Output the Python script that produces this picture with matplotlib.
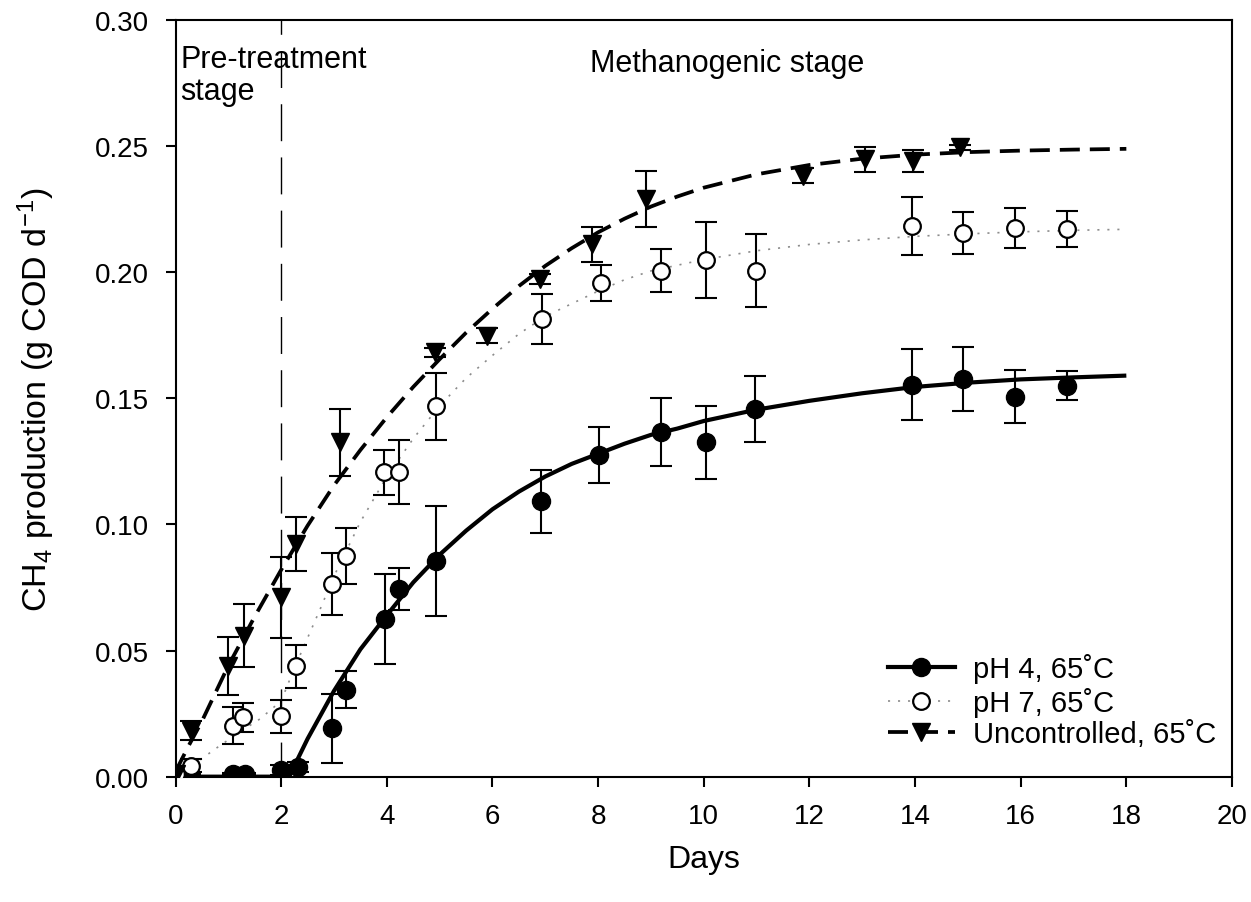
import matplotlib
matplotlib.use("Agg")
import matplotlib.pyplot as plt
from matplotlib.lines import Line2D
import numpy as np

plt.rcParams['font.family'] = ['Liberation Sans', 'DejaVu Sans']
plt.rcParams['mathtext.fontset'] = 'custom'
plt.rcParams['mathtext.rm'] = 'Liberation Sans'
plt.rcParams['mathtext.it'] = 'Liberation Sans:italic'
plt.rcParams['lines.scale_dashes'] = False

# ---- measured points (days, g COD/d, +/- error) ----
ph4_days = [0.02, 0.28, 1.09, 1.32, 2.0, 2.32, 2.96, 3.23, 3.96, 4.24, 4.94, 6.92,
            8.02, 9.19, 10.04, 10.97, 13.95, 14.91, 15.9, 16.87]
ph4_ch4 = [0.001, 0.001, 0.001, 0.001, 0.0028, 0.0037, 0.0192, 0.0344, 0.0625, 0.0744,
           0.0854, 0.1092, 0.1276, 0.1367, 0.1325, 0.1457, 0.1554, 0.1576, 0.1506, 0.155]
ph4_err = [0.0005, 0.0005, 0.0005, 0.0005, 0.002, 0.002, 0.0137, 0.0073, 0.018, 0.0083,
           0.0218, 0.0125, 0.011, 0.0135, 0.0144, 0.013, 0.014, 0.0126, 0.0105, 0.0057]

ph7_days = [0.0, 0.29, 1.09, 1.28, 1.99, 2.29, 2.96, 3.22, 3.95, 4.23, 4.94, 6.93,
            8.05, 9.2, 10.04, 10.98, 13.95, 14.91, 15.9, 16.87]
ph7_ch4 = [0.001, 0.0044, 0.0202, 0.0235, 0.0239, 0.0437, 0.0764, 0.0874, 0.1207, 0.1207,
           0.1468, 0.1814, 0.1957, 0.2006, 0.2048, 0.2006, 0.2184, 0.2155, 0.2174, 0.2171]
ph7_err = [0.001, 0.0025, 0.0073, 0.0056, 0.0065, 0.0084, 0.0122, 0.011, 0.009, 0.0128,
           0.0132, 0.01, 0.0073, 0.0084, 0.015, 0.0144, 0.0115, 0.0082, 0.008, 0.0073]

unc_days = [0.0, 0.3, 1.0, 1.3, 2.0, 2.29, 3.11, 4.91, 5.89, 6.9, 7.89, 8.9,
            11.88, 13.06, 13.97, 14.86]
unc_ch4 = [0.001, 0.0182, 0.044, 0.0559, 0.0711, 0.0922, 0.1325, 0.1682, 0.1748, 0.1973,
           0.2111, 0.229, 0.2382, 0.2448, 0.2441, 0.2495]
unc_err = [0.0005, 0.0037, 0.0115, 0.0124, 0.016, 0.0106, 0.0133, 0.0018, 0.003, 0.002,
           0.0069, 0.011, 0.003, 0.005, 0.0045, 0.001]

# ---- fitted curves ----
fit4_days = [0, 2.15, 2.5, 3.0, 3.5, 4.0, 4.5, 5.0, 5.5, 6.0, 6.5, 7.0, 7.5, 8.0, 8.5,
             9.0, 9.5, 10.0, 11.0, 12.0, 13.0, 14.0, 15.0, 16.0, 17.0, 18.0]
fit4_ch4 = [0, 0, 0.015, 0.034, 0.0505, 0.064, 0.077, 0.088, 0.0975, 0.106, 0.113, 0.119,
            0.124, 0.128, 0.132, 0.1355, 0.138, 0.141, 0.1455, 0.149, 0.152, 0.1545,
            0.1562, 0.1575, 0.1583, 0.159]

fit7_days = [0, 0.4, 0.8, 1.2, 1.6, 2.0, 2.25, 2.5, 2.75, 3.0, 3.5, 4.0, 4.5, 5.0, 5.5,
             6.0, 6.5, 7.0, 7.5, 8.0, 8.5, 9.0, 10.0, 11.0, 12.0, 13.0, 14.0, 15.0,
             16.0, 17.0, 18.0]
fit7_ch4 = [0, 0.0057, 0.0117, 0.0175, 0.0229, 0.030, 0.043, 0.055, 0.067, 0.0795, 0.101,
            0.119, 0.134, 0.147, 0.158, 0.167, 0.1755, 0.1825, 0.1875, 0.1925, 0.197,
            0.2005, 0.205, 0.2085, 0.211, 0.2128, 0.2142, 0.2152, 0.216, 0.2166, 0.217]

fitu_days = [0, 0.25, 0.5, 1.0, 1.5, 2.0, 2.5, 3.0, 3.5, 4.0, 4.5, 5.0, 5.5, 6.0, 6.5,
             7.0, 7.5, 8.0, 8.5, 9.0, 9.5, 10.0, 11.0, 12.0, 13.0, 14.0, 15.0, 16.0,
             17.0, 18.0]
fitu_ch4 = [0.002, 0.0123, 0.022, 0.044, 0.0635, 0.082, 0.0995, 0.1155, 0.1295, 0.1425,
            0.1545, 0.1655, 0.176, 0.1855, 0.1945, 0.2025, 0.2095, 0.2158, 0.2212, 0.226,
            0.230, 0.2335, 0.2388, 0.2425, 0.245, 0.2466, 0.2476, 0.2482, 0.2486, 0.2489]

stage_boundary = 2.0
labels = ['pH 4, 65˚C', 'pH 7, 65˚C', 'Uncontrolled, 65˚C']

fig = plt.figure(figsize=(12.51, 9.03), dpi=100)
ax = fig.add_axes([0.1403, 0.1388, 0.8445, 0.8380])

dash_u = (0, (14.4, 7.2))
dot_7 = (0, (1.5, 5.7))

# stage separator
ax.axvline(stage_boundary, ymin=1, ymax=0, color='k', lw=1.0,
           linestyle=(16.3, (26.6, 11.7)), zorder=1)

# fit lines
ax.plot(fit4_days, fit4_ch4, color='k', lw=3.0, solid_capstyle='butt', zorder=2)
ax.plot(fit7_days, fit7_ch4, color='0.55', lw=1.2, linestyle=dot_7, zorder=2)
ax.plot(fitu_days, fitu_ch4, color='k', lw=2.7, linestyle=dash_u, zorder=2)

# error bars
for d, v, e in [(ph4_days, ph4_ch4, ph4_err), (ph7_days, ph7_ch4, ph7_err),
                (unc_days, unc_ch4, unc_err)]:
    ax.errorbar(d, v, yerr=e, fmt='none', ecolor='k', elinewidth=1.5,
                capsize=8, capthick=1.5, zorder=3)

# markers
ax.plot(ph4_days, ph4_ch4, 'o', ms=13, mfc='k', mec='k', zorder=4)
ax.plot(ph7_days, ph7_ch4, 'o', ms=12, mfc='white', mec='k', mew=1.6, zorder=4)
ax.plot(unc_days, unc_ch4, 'v', ms=13, mfc='k', mec='k', zorder=4)

ax.set_xlim(0, 20)
ax.set_ylim(0, 0.30)
ax.set_xticks(np.arange(0, 21, 2))
ax.set_yticks(np.arange(0, 0.301, 0.05))
ax.set_yticklabels(['%.2f' % t for t in np.arange(0, 0.301, 0.05)])
ax.tick_params(direction='out', length=7.2, width=1.5, labelsize=20, pad=12)
for s in ax.spines.values():
    s.set_linewidth(1.5)

ax.set_xlabel('Days', fontsize=23)
ax.xaxis.set_label_coords(0.5, -0.089)
ax.set_ylabel(r'CH$_4$ production (g COD d$^{-1}$)', fontsize=24.5)
ax.yaxis.set_label_coords(-0.112, 0.5)

ax.text(0.085, 0.2905, 'Pre-treatment\nstage', fontsize=22, va='top', ha='left',
        linespacing=1.1)
ax.text(7.84, 0.2798, 'Methanogenic stage', fontsize=22, va='baseline', ha='left')

handles = [
    Line2D([], [], color='k', lw=3.0, marker='o', ms=13, mfc='k', mec='k'),
    Line2D([], [], color='0.55', lw=1.2, linestyle=dot_7, marker='o', ms=12,
           mfc='white', mec='k', mew=1.6),
    Line2D([], [], color='k', lw=2.7, linestyle=dash_u, marker='v', ms=13,
           mfc='k', mec='k'),
]
ax.legend(handles, labels, loc='center left', bbox_to_anchor=(0.674, 0.100),
          frameon=False, fontsize=21, handlelength=2.3, handletextpad=0.62,
          labelspacing=0.12, borderpad=0, borderaxespad=0)

fig.savefig('out.png', dpi=100)
